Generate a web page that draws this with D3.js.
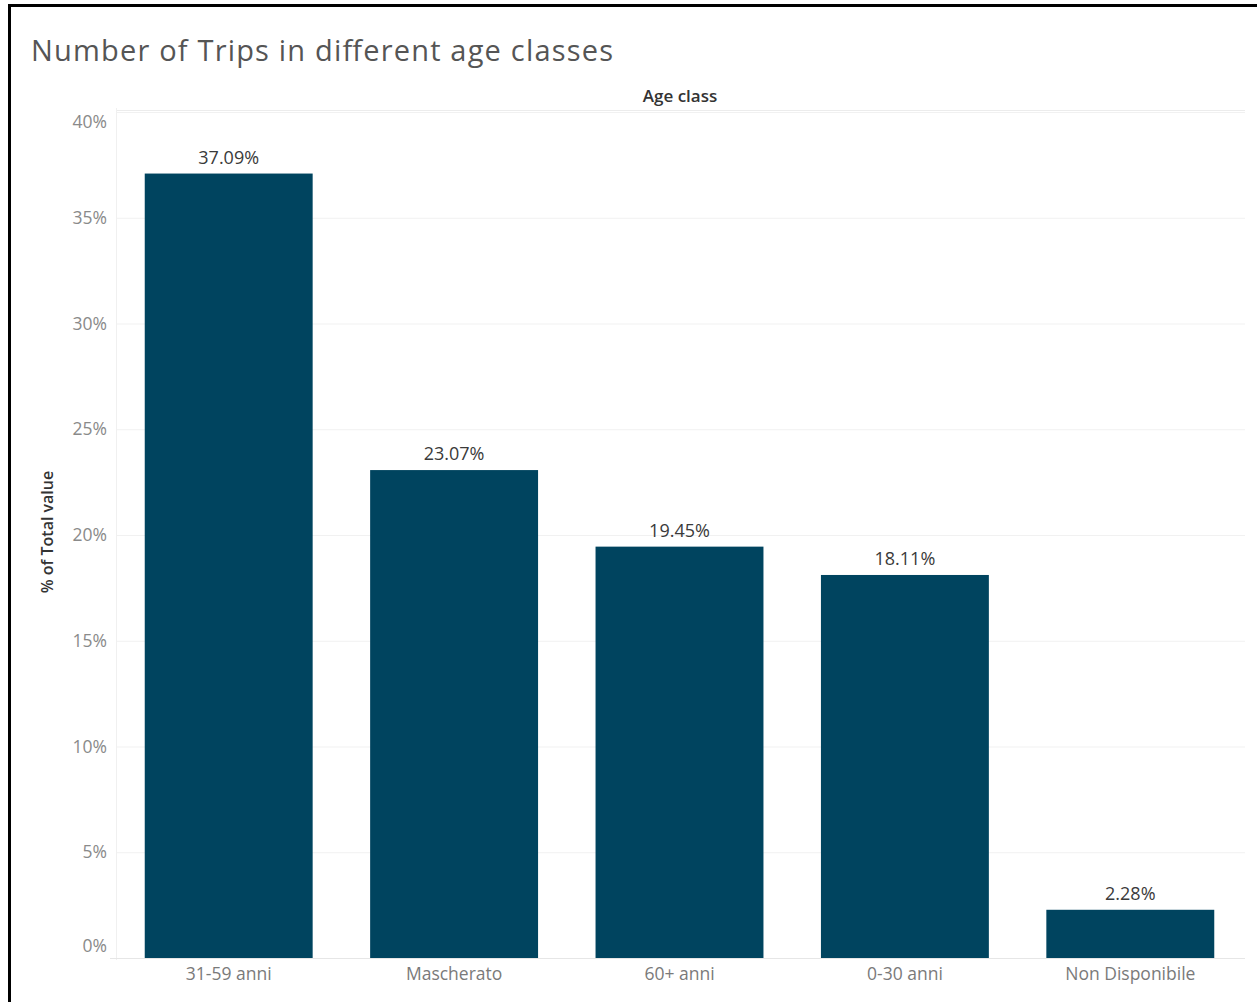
<!DOCTYPE html>
<html>
<head>
<meta charset="utf-8">
<script src="https://cdn.jsdelivr.net/npm/d3@7"></script>
<style>
  html, body { margin: 0; padding: 0; background: #fff; }
  svg { display: block; }
</style>
</head>
<body>
<script>
// Share of trips per age class
const categories = ["31-59 anni", "Mascherato", "60+ anni", "0-30 anni", "Non Disponibile"];
const shares = [37.09, 23.07, 19.45, 18.11, 2.28];
const yTicks = [0, 5, 10, 15, 20, 25, 30, 35, 40];

const W = 1257, H = 1002;
const svg = d3.select("body").append("svg").attr("width", W).attr("height", H);

const fontFam = "'Open Sans', 'Noto Sans', Lato, sans-serif";

// frame (top and left edges)
svg.append("rect").attr("x", 8).attr("y", 4).attr("width", 3).attr("height", H - 4).attr("fill", "#000");
svg.append("rect").attr("x", 8).attr("y", 4).attr("width", W - 8).attr("height", 3).attr("fill", "#000");

// title
svg.append("text")
  .attr("x", 31).attr("y", 61)
  .attr("font-family", fontFam)
  .attr("font-size", 29)
  .attr("fill", "#555")
  .attr("textLength", 582)
  .text("Number of Trips in different age classes");

const x = d3.scaleBand().domain(categories).range([116, 1243]).paddingInner(0.255).paddingOuter(0.1275);
const y = d3.scaleLinear().domain([0, 40]).range([958, 112]);

// gridlines
svg.append("g").selectAll("line").data(yTicks).join("line")
  .attr("x1", 116).attr("x2", 1245)
  .attr("y1", d => y(d) + 0.5).attr("y2", d => y(d) + 0.5)
  .attr("stroke", "#f1f1f1").attr("stroke-width", 1);

// header band line
svg.append("line").attr("x1", 116).attr("x2", 1245).attr("y1", 110.5).attr("y2", 110.5)
  .attr("stroke", "#ececec");

// vertical pane divider
svg.append("line").attr("x1", 116.5).attr("x2", 116.5).attr("y1", 108).attr("y2", 960)
  .attr("stroke", "#f0f0f0");

// zero baseline
svg.append("line").attr("x1", 110).attr("x2", 1245).attr("y1", 958.5).attr("y2", 958.5)
  .attr("stroke", "#e6e6e6");

// y axis; the end labels are pulled inside the pane
const yAxis = d3.axisLeft(y).tickValues(yTicks).tickFormat(d => d + "%").tickSize(0).tickPadding(0);
const gy = svg.append("g").attr("transform", "translate(107,0)").call(yAxis);
gy.select(".domain").remove();
gy.selectAll("text")
  .attr("font-family", fontFam).attr("font-size", 17.5).attr("fill", "#8a8a8a")
  .attr("dy", d => d === 40 ? "0.9em" : d === 0 ? "-0.35em" : "0.32em");

// x axis
const xAxis = d3.axisBottom(x).tickSize(0).tickPadding(0);
const gx = svg.append("g").attr("transform", "translate(0,966)").call(xAxis);
gx.select(".domain").remove();
gx.selectAll("text")
  .attr("font-family", fontFam).attr("font-size", 17.5).attr("fill", "#7a7a7a")
  .attr("dy", "0.8em");

// bars
svg.append("g").selectAll("rect").data(categories).join("rect")
  .attr("x", d => x(d))
  .attr("width", x.bandwidth())
  .attr("y", (d, i) => y(shares[i]))
  .attr("height", (d, i) => y(0) - y(shares[i]))
  .attr("fill", "#00445f");

// value labels
svg.append("g").selectAll("text").data(categories).join("text")
  .attr("x", d => x(d) + x.bandwidth() / 2)
  .attr("y", (d, i) => y(shares[i]) - 10)
  .attr("text-anchor", "middle")
  .attr("font-family", fontFam).attr("font-size", 18).attr("fill", "#3a3a3a")
  .text((d, i) => shares[i].toFixed(2) + "%");

// header
svg.append("text")
  .attr("x", 680).attr("y", 102)
  .attr("text-anchor", "middle")
  .attr("font-family", fontFam).attr("font-size", 17).attr("font-weight", 600).attr("fill", "#333")
  .text("Age class");

// y axis title
svg.append("text")
  .attr("transform", "translate(53,532) rotate(-90)")
  .attr("text-anchor", "middle")
  .attr("font-family", fontFam).attr("font-size", 16).attr("font-weight", 600).attr("fill", "#333")
  .text("% of Total value");
</script>
</body>
</html>
